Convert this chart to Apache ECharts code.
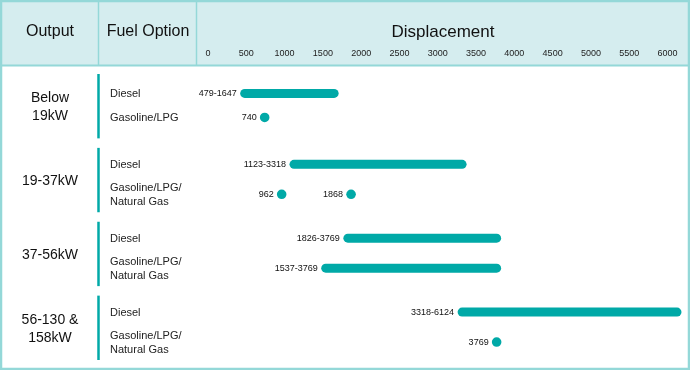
<!DOCTYPE html>
<html><head><meta charset="utf-8">
<script src="https://cdn.jsdelivr.net/npm/echarts@6/dist/echarts.min.js"></script>
<style>html,body{margin:0;padding:0;background:#fff}#c{width:690px;height:370px}</style>
</head><body><div id="c"></div>
<script>
// ---- data ----
var outputs = ['Below\n19kW', '19-37kW', '37-56kW', '56-130 &\n158kW'];
var rowGroup = [0, 0, 1, 1, 2, 2, 3, 3];
var rowSlot = [0, 1, 0, 1, 0, 1, 0, 1];
var rowFuel = ['Diesel', 'Gasoline/LPG', 'Diesel', 'Gasoline/LPG/\nNatural Gas', 'Diesel', 'Gasoline/LPG/\nNatural Gas', 'Diesel', 'Gasoline/LPG/\nNatural Gas'];
var rangeRow = [0, 2, 4, 5, 6];
var rangeStart = [479, 1123, 1826, 1537, 3318];
var rangeEnd = [1647, 3318, 3769, 3769, 6124];
var pointRow = [1, 3, 3, 7];
var pointValue = [740, 962, 1868, 3769];
var xTicks = [0, 500, 1000, 1500, 2000, 2500, 3000, 3500, 4000, 4500, 5000, 5500, 6000];

var TEAL = '#00a9a7', FRAME = '#94d8d8', HEAD = '#d5edef', FONT = 'Liberation Sans, Arial, sans-serif';

function groupTwoLine(g) {
  for (var i = 0; i < rowGroup.length; i++) if (rowGroup[i] === g && rowFuel[i].indexOf('\n') >= 0) return true;
  return false;
}
function rowY(api, row, x) {
  var g = rowGroup[row];
  var c = api.coord([x, g]);
  var gap = groupTwoLine(g) ? 15 : 12;
  return [c[0], c[1] + (rowSlot[row] === 0 ? -gap : gap)];
}

var rangeData = rangeRow.map(function (r, i) { return [rangeStart[i], rangeEnd[i], r]; });
var pointData = pointRow.map(function (r, i) { return [pointValue[i], r]; });
var fuelData = rowFuel.map(function (f, i) { return [0, i]; });
var groupData = outputs.map(function (o, i) { return [0, i]; });

var chart = echarts.init(document.getElementById('c'), null, { renderer: 'canvas' });
chart.setOption({
  animation: false,
  textStyle: { fontFamily: FONT },
  grid: { left: 208, right: 22.5, top: 68.5, bottom: 6 },
  xAxis: {
    type: 'value', position: 'top', min: 0, max: 6000, interval: 500,
    axisLine: { show: false }, axisTick: { show: false }, splitLine: { show: false },
    axisLabel: { margin: 10, fontSize: 9, color: '#222', fontFamily: FONT,
      formatter: function (v) { return xTicks.indexOf(v) >= 0 ? String(v) : ''; } }
  },
  yAxis: {
    type: 'category', data: outputs, inverse: true,
    axisLine: { show: false }, axisTick: { show: false }, splitLine: { show: false },
    axisLabel: { show: false }
  },
  graphic: [
    { type: 'rect', shape: { x: 0, y: 0, width: 690, height: 66 }, style: { fill: HEAD }, z: -10 },
    { type: 'line', shape: { x1: 0, y1: 65.5, x2: 690, y2: 65.5 }, style: { stroke: FRAME, lineWidth: 2 } },
    { type: 'line', shape: { x1: 98.5, y1: 0, x2: 98.5, y2: 65 }, style: { stroke: FRAME, lineWidth: 1.5 } },
    { type: 'line', shape: { x1: 196.5, y1: 0, x2: 196.5, y2: 65 }, style: { stroke: FRAME, lineWidth: 1.5 } },
    { type: 'rect', shape: { x: 1, y: 1, width: 688, height: 368 }, style: { fill: null, stroke: FRAME, lineWidth: 2.5 }, z: 50 },
    { type: 'text', x: 50, y: 32, style: { text: 'Output', font: '16px ' + FONT, fill: '#111', align: 'center', verticalAlign: 'middle' } },
    { type: 'text', x: 148, y: 32, style: { text: 'Fuel Option', font: '16px ' + FONT, fill: '#111', align: 'center', verticalAlign: 'middle' } },
    { type: 'text', x: 443, y: 32, style: { text: 'Displacement', font: '17px ' + FONT, fill: '#111', align: 'center', verticalAlign: 'middle' } }
  ],
  series: [
    {
      type: 'custom', name: 'groups', data: groupData, clip: false, silent: true,
      renderItem: function (params, api) {
        var g = api.value(1);
        var c = api.coord([0, g]);
        var h = api.size([0, 1])[1];
        return { type: 'group', children: [
          { type: 'line', shape: { x1: 98.5, y1: c[1] - h / 2 + 5.5, x2: 98.5, y2: c[1] + h / 2 - 4 },
            style: { stroke: TEAL, lineWidth: 2.5 } },
          { type: 'text', x: 50, y: c[1] + 2,
            style: { text: outputs[g], font: '14px ' + FONT, lineHeight: 18, fill: '#111', align: 'center', verticalAlign: 'middle' } }
        ] };
      }
    },
    {
      type: 'custom', name: 'fuel', data: fuelData, clip: false, silent: true,
      renderItem: function (params, api) {
        var r = api.value(1);
        var p = rowY(api, r, 0);
        return { type: 'text', x: 110, y: p[1] + 1,
          style: { text: rowFuel[r], font: '11px ' + FONT, lineHeight: 14, fill: '#222', align: 'left', verticalAlign: 'middle' } };
      }
    },
    {
      type: 'custom', name: 'ranges', data: rangeData, clip: false,
      encode: { x: [0, 1] },
      renderItem: function (params, api) {
        var r = api.value(2);
        var a = rowY(api, r, api.value(0));
        var b = rowY(api, r, api.value(1));
        return { type: 'group', children: [
          { type: 'line', shape: { x1: a[0], y1: a[1], x2: b[0], y2: b[1] },
            style: { stroke: TEAL, lineWidth: 9, lineCap: 'round' } },
          { type: 'text', x: a[0] - 8, y: a[1],
            style: { text: api.value(0) + '-' + api.value(1), font: '9px ' + FONT, fill: '#111', align: 'right', verticalAlign: 'middle' } }
        ] };
      }
    },
    {
      type: 'custom', name: 'points', data: pointData, clip: false,
      encode: { x: 0 },
      renderItem: function (params, api) {
        var r = api.value(1);
        var a = rowY(api, r, api.value(0));
        return { type: 'group', children: [
          { type: 'circle', shape: { cx: a[0], cy: a[1], r: 4.8 }, style: { fill: TEAL } },
          { type: 'text', x: a[0] - 8, y: a[1],
            style: { text: String(api.value(0)), font: '9px ' + FONT, fill: '#111', align: 'right', verticalAlign: 'middle' } }
        ] };
      }
    }
  ]
});
</script></body></html>
